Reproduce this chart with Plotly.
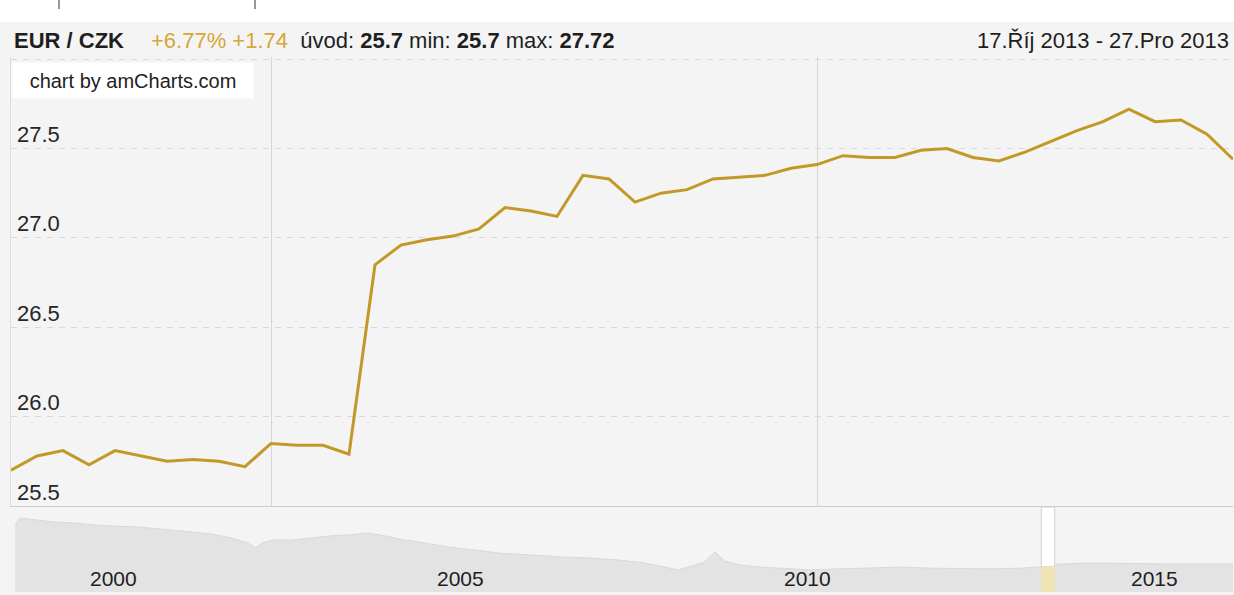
import plotly.graph_objects as go

# ---------------- data ----------------
dates = ["2013-10-17", "2013-10-18", "2013-10-21", "2013-10-22", "2013-10-23", "2013-10-24",
         "2013-10-25", "2013-10-29", "2013-10-30", "2013-10-31",
         "2013-11-01", "2013-11-04", "2013-11-05", "2013-11-06", "2013-11-07", "2013-11-08",
         "2013-11-11", "2013-11-12", "2013-11-13", "2013-11-14", "2013-11-15",
         "2013-11-18", "2013-11-19", "2013-11-20", "2013-11-21", "2013-11-22",
         "2013-11-25", "2013-11-26", "2013-11-27", "2013-11-28", "2013-11-29",
         "2013-12-02", "2013-12-03", "2013-12-04", "2013-12-05", "2013-12-06",
         "2013-12-09", "2013-12-10", "2013-12-11", "2013-12-12", "2013-12-13",
         "2013-12-16", "2013-12-17", "2013-12-18", "2013-12-19", "2013-12-20",
         "2013-12-23", "2013-12-27"]
values = [25.70, 25.78, 25.81, 25.73, 25.81, 25.78, 25.75, 25.76, 25.75, 25.72,
          25.85, 25.84, 25.84, 25.79, 26.85, 26.96, 26.99, 27.01, 27.05, 27.17,
          27.15, 27.12, 27.35, 27.33, 27.20, 27.25, 27.27, 27.33, 27.34, 27.35,
          27.39, 27.41, 27.46, 27.45, 27.45, 27.49, 27.50, 27.45, 27.43, 27.48,
          27.54, 27.60, 27.65, 27.72, 27.65, 27.66, 27.58, 27.44]

month_grid_dates = ["2013-11-01", "2013-12-02"]
y_ticks = [25.5, 26.0, 26.5, 27.0, 27.5, 28.0]
y_tick_labels = ["25.5", "26.0", "26.5", "27.0", "27.5", ""]

nav_dates = ["1999-01-04", "1999-02-01", "1999-04-20", "1999-07-30", "1999-11-15",
             "2000-02-28", "2000-06-12", "2000-09-25", "2001-02-05", "2001-06-18",
             "2001-10-27", "2002-02-17", "2002-05-11", "2002-06-24", "2002-07-27",
             "2002-09-16", "2002-12-20", "2003-04-05", "2003-07-20", "2003-10-31",
             "2004-02-02", "2004-04-08", "2004-07-20", "2004-11-28", "2005-04-08",
             "2005-08-18", "2005-12-28", "2006-06-05", "2006-11-10", "2007-04-16",
             "2007-09-20", "2008-01-30", "2008-05-15", "2008-07-23", "2008-10-04",
             "2008-12-12", "2009-02-03", "2009-03-28", "2009-06-14", "2009-09-27",
             "2010-01-10", "2010-06-18", "2010-11-20", "2011-05-01", "2011-10-05",
             "2012-03-12", "2012-08-15", "2013-01-22", "2013-06-28", "2013-10-12",
             "2013-10-17", "2013-12-27", "2014-01-05", "2014-05-07", "2014-10-13",
             "2015-03-20", "2015-08-25", "2016-01-30", "2016-07-26"]
nav_values = [36.7, 38.4, 37.9, 37.3, 37.0,
              36.4, 36.1, 35.9, 35.3, 34.7,
              33.9, 32.7, 31.3, 29.9, 31.3,
              32.1, 32.1, 32.7, 33.3, 33.6,
              34.1, 33.6, 32.4, 31.3, 30.1,
              29.3, 28.4, 27.9, 27.3, 27.0,
              26.4, 25.6, 24.4, 23.6, 24.7,
              25.9, 28.7, 26.1, 25.0, 24.4,
              24.1, 23.6, 23.9, 24.1, 24.4,
              24.1, 23.9, 23.9, 24.1, 24.4,
              24.4, 24.7, 25.2, 25.5, 25.5,
              25.3, 25.3, 25.3, 25.3]
nav_year_labels = ["2000", "2005", "2010", "2015"]

pair_name = "EUR / CZK"
period_text = "17.Říj 2013 - 27.Pro 2013"
credit_text = "chart by amCharts.com"

# ---------------- layout helpers ----------------
W, H = 1234, 595
ML, MR, MT, MB = 11, 1, 57, 3
PW, PH = W - ML - MR, H - MT - MB


def px(x):
    return (x - ML) / PW


def py(y):
    return (H - MB - y) / PH


GOLD = "#c29927"
GOLD_TXT = "#d6a636"
FONT = "Liberation Sans, Arial, Helvetica, sans-serif"
TXT = "#1e1e1e"

first, last = values[0], values[-1]
chg = last - first
pct = chg / first * 100
vmin, vmax = min(values), max(values)


def fmt(v):
    return f"{round(v, 2):g}"


fig = go.Figure()

# navigator graph
fig.add_trace(go.Scatter(x=nav_dates, y=nav_values, mode="lines", fill="tozeroy",
                         fillcolor="#e3e3e3", line=dict(color="#d9d9d9", width=1),
                         xaxis="x2", yaxis="y2", hoverinfo="skip", showlegend=False))
sel_start, sel_end = dates[0], dates[-1]
sel_d = [d for d in nav_dates if sel_start <= d <= sel_end]
sel_v = [v for d, v in zip(nav_dates, nav_values) if sel_start <= d <= sel_end]
fig.add_trace(go.Scatter(x=sel_d, y=sel_v, mode="lines", fill="tozeroy",
                         fillcolor="#f0e5b2", line=dict(color="#eadc9c", width=0),
                         xaxis="x2", yaxis="y2", hoverinfo="skip", showlegend=False))

# main line
fig.add_trace(go.Scatter(x=dates, y=values, mode="lines",
                         line=dict(color=GOLD, width=3),
                         xaxis="x", yaxis="y", showlegend=False))

main_bottom = py(506)
nav_top = py(507)

fig.update_layout(
    width=W, height=H,
    margin=dict(l=ML, r=MR, t=MT, b=MB),
    paper_bgcolor="#f4f4f4",
    plot_bgcolor="#f4f4f4",
    font=dict(family=FONT, color=TXT),
    showlegend=False,
    xaxis=dict(type="category", range=[0, len(dates) - 1], domain=[0, 1], anchor="y",
               tickvals=month_grid_dates, showticklabels=False, ticks="",
               showgrid=True, gridcolor="#d6d6d6", gridwidth=1,
               showline=True, linecolor="#cccccc", linewidth=1, mirror=False,
               zeroline=False, fixedrange=True),
    yaxis=dict(range=[25.5, 28.012], domain=[main_bottom, 1], anchor="x",
               tickvals=y_ticks, showticklabels=False,
               showgrid=True, gridcolor="#d9d9d9", griddash="6px,6px", gridwidth=1,
               showline=True, linecolor="#dddddd", zeroline=False, ticks="",
               fixedrange=True),
    xaxis2=dict(type="date", range=["1998-12-13", "2016-07-22"], domain=[0, 1],
                anchor="y2", showgrid=False, showticklabels=False, showline=False,
                zeroline=False, ticks=""),
    yaxis2=dict(range=[17.29, 41.57], domain=[0, nav_top], anchor="x2",
                visible=False, showgrid=False),
)

shapes = [
    # white strip on top
    dict(type="rect", xref="paper", yref="paper", x0=px(0), x1=px(W), y0=py(22), y1=py(0),
         fillcolor="white", line=dict(width=0), layer="above"),
    dict(type="line", xref="paper", yref="paper", x0=px(59), x1=px(59), y0=py(9), y1=py(0),
         line=dict(color="#777", width=1.5)),
    dict(type="line", xref="paper", yref="paper", x0=px(255), x1=px(255), y0=py(9), y1=py(0),
         line=dict(color="#777", width=1.5)),
    # navigator selection window
    dict(type="rect", xref="x2", yref="paper", x0=sel_start, x1=sel_end,
         y0=py(591), y1=py(507), fillcolor="white",
         line=dict(color="#cfcfcf", width=1), layer="below"),
]
fig.update_layout(shapes=shapes)

ann = []
ann.append(dict(xref="paper", yref="paper", x=px(12), y=py(40), xanchor="left", yanchor="middle",
                text=f"<b>{pair_name}</b>", showarrow=False,
                font=dict(size=22, color=TXT, family=FONT)))
ann.append(dict(xref="paper", yref="paper", x=px(149), y=py(40), xanchor="left", yanchor="middle",
                text=(f"<span style='color:{GOLD_TXT}'>{pct:+.2f}% {chg:+.2f}</span>&nbsp; "
                      f"úvod: <b>{fmt(first)}</b> min: <b>{fmt(vmin)}</b> max: <b>{fmt(vmax)}</b>"),
                showarrow=False, font=dict(size=22, color=TXT, family=FONT)))
ann.append(dict(xref="paper", yref="paper", x=px(1231), y=py(40), xanchor="right", yanchor="middle",
                text=period_text, showarrow=False,
                font=dict(size=22, color=TXT, family=FONT)))
ann.append(dict(xref="paper", yref="paper", x=px(12), y=py(62), xanchor="left", yanchor="top",
                text=credit_text, showarrow=False, bgcolor="white",
                width=234, height=29, borderpad=3, align="center",
                font=dict(size=20, color="#222", family=FONT)))
for val, lab in zip(y_ticks, y_tick_labels):
    if lab:
        ann.append(dict(xref="paper", yref="y", x=px(15), y=val, yshift=14,
                        xanchor="left", yanchor="middle", text=lab, showarrow=False,
                        font=dict(size=22, color="#262626", family=FONT)))
for lab in nav_year_labels:
    ann.append(dict(xref="x2", yref="paper", x=f"{lab}-06-03", y=py(578),
                    xanchor="center", yanchor="middle", text=lab, showarrow=False,
                    font=dict(size=21, color=TXT, family=FONT)))
fig.update_layout(annotations=ann)

fig.write_html("out.html", config={"displayModeBar": False},
               post_script="document.body.style.margin='0';")
